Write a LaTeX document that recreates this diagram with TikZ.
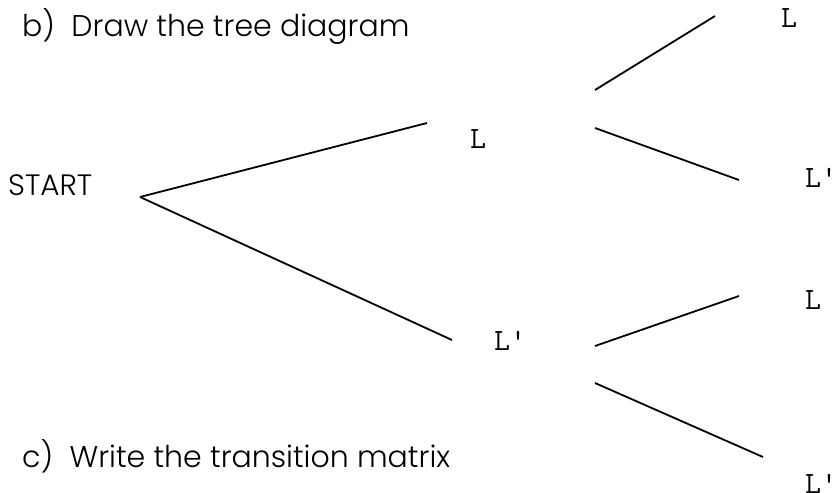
\documentclass[tikz,border=0pt]{standalone}
\usepackage{fontspec}
\setmainfont{Poppins}[UprightFont=* Light]
\begin{document}
\begin{tikzpicture}[x=1pt,y=-1pt,
  heading/.style={anchor=base west,inner sep=0pt,font=\fontsize{30}{33}\selectfont},
  state/.style={anchor=base west,inner sep=0pt,font=\ttfamily\fontsize{31}{34}\selectfont},
  branch/.style={line width=1.8pt}]
\useasboundingbox[fill=white] (0,0) rectangle (836,493);
\node[heading] (b) at (22,36) {b)\ \ Draw the tree diagram};
\node[heading] (c) at (22,467) {c)\ \ Write the transition matrix};
\node[heading,font=\fontsize{29.5}{32}\selectfont] (start) at (8,195) {START};
\node[state] (l1) at (470,148) {L};
\node[state] (l2) at (494,350) {L'};
\node[state] (l11) at (781,27) {L};
\node[state] (l12) at (805,187) {L'};
\node[state] (l21) at (805,309) {L};
\node[state] (l22) at (805,493) {L'};
\coordinate (s) at (140,197);
\coordinate (a1) at (427,123);
\coordinate (a2) at (452,340);
\coordinate (p1) at (595,90);
\coordinate (q1) at (715,16);
\coordinate (p2) at (595,128);
\coordinate (q2) at (739,180);
\coordinate (p3) at (595,346);
\coordinate (q3) at (739,296);
\coordinate (p4) at (595,383);
\coordinate (q4) at (763,457);
\draw[branch] (s) -- (a1);
\draw[branch] (s) -- (a2);
\draw[branch] (p1) -- (q1);
\draw[branch] (p2) -- (q2);
\draw[branch] (p3) -- (q3);
\draw[branch] (p4) -- (q4);
\end{tikzpicture}
\end{document}
